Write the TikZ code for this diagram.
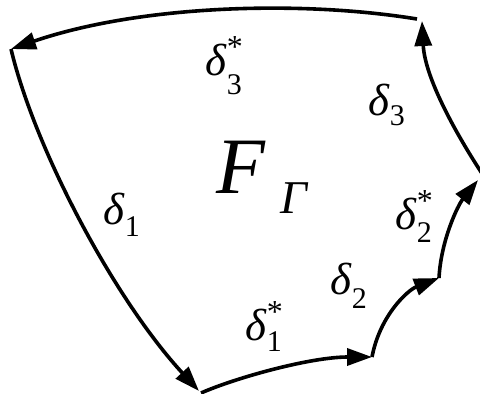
\documentclass[tikz,border=0pt]{standalone}
\usepackage{fontspec}
\setmainfont{Liberation Serif}
\usetikzlibrary{arrows.meta}
\newcommand\dlab[4]{{\fontsize{45}{45}\selectfont\itshape δ}\kern1pt\rlap{\raisebox{#4}{\fontsize{32}{32}\selectfont #2}}\raisebox{-#3}{\fontsize{30}{30}\selectfont #1}}
\tikzset{
  edge/.style={line width=3.6pt, line cap=butt},
  arr/.style={edge, -{Triangle[length=25pt,width=17pt]}},
  lbl/.style={anchor=base west, inner sep=0pt, outer sep=0pt}
}
\begin{document}
\begin{tikzpicture}[x=1pt,y=-1pt]
\useasboundingbox (0,0) rectangle (480,394);
% corners
\coordinate (A) at (11,49);
\coordinate (Btop) at (417,19);
\coordinate (Btip) at (422,21);
\coordinate (C) at (483,175);
\coordinate (Ctip) at (478,180);
\coordinate (D) at (199,391);
\coordinate (D2) at (201,393);
\coordinate (E) at (372,357);
\coordinate (G) at (439,278);
% edges
\draw[arr] (Btop) .. controls (300,0) and (140,5) .. (A);
\draw[arr] (A) .. controls (35,150) and (115,300) .. (D);
\draw[arr] (D2) .. controls (235,378) and (310,357) .. (E);
\draw[arr] (E) .. controls (380,315) and (408,290) .. (G);
\draw[arr] (G) .. controls (441,240) and (458,205) .. (Ctip);
\draw[arr] (C) .. controls (460,140) and (425,80) .. (Btip);
% labels
\node[lbl] (d3s) at (205,75) {\dlab{3}{*}{19pt}{18pt}};
\node[lbl] (d3) at (368,115) {\dlab{3}{}{10pt}{0pt}};
\node[lbl] (d2s) at (395,229) {\dlab{2}{*}{13pt}{18pt}};
\node[lbl] (d2) at (330,294) {\dlab{2}{}{14pt}{0pt}};
\node[lbl] (d1s) at (245,340) {\dlab{1}{*}{11pt}{18pt}};
\node[lbl] (d1) at (103,224) {\dlab{1}{}{12pt}{0pt}};
\node[lbl] (F) at (216,193) {\fontsize{80}{80}\selectfont\itshape F};
\node[lbl] (Gam) at (280,213) {\fontsize{47}{47}\selectfont\itshape Γ};
\end{tikzpicture}
\end{document}
